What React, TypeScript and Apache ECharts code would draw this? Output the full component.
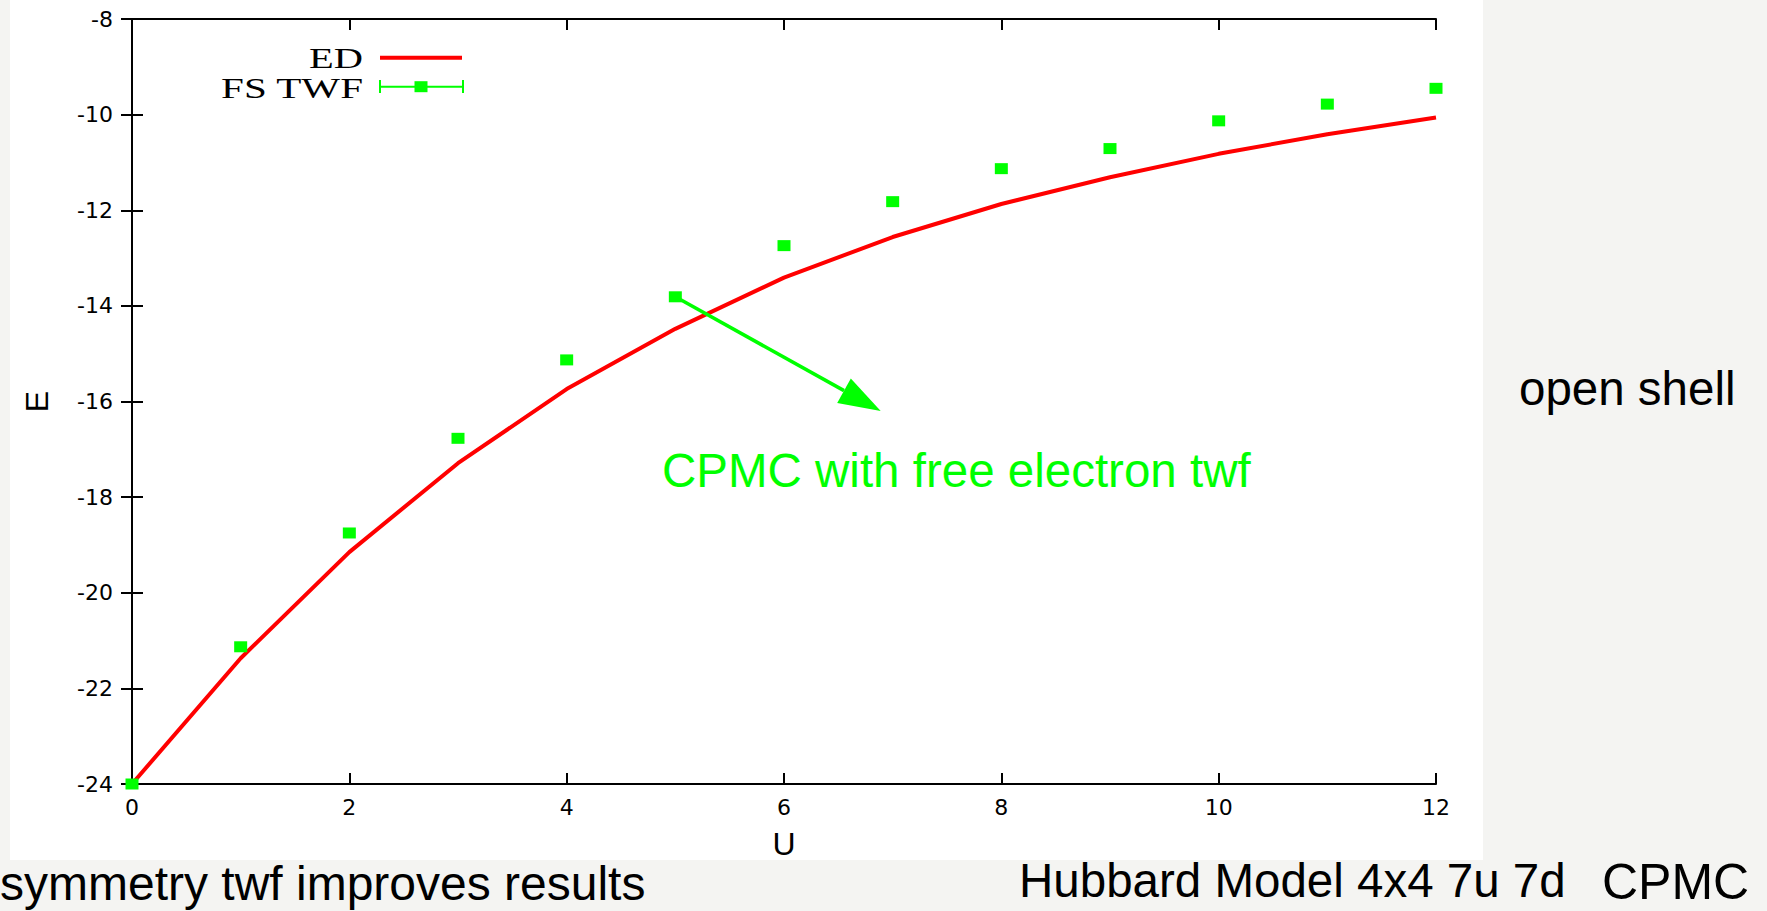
import React, { useEffect, useRef } from "react";
import * as echarts from "echarts";

const U_VALUES = [0, 1, 2, 3, 4, 5, 6, 7, 8, 9, 10, 11, 12];
const ED = [-24, -21.37, -19.15, -17.29, -15.74, -14.48, -13.41, -12.56, -11.87, -11.31, -10.82, -10.41, -10.06];
const FS_TWF = [-24, -21.13, -18.75, -16.77, -15.13, -13.81, -12.74, -11.82, -11.13, -10.71, -10.13, -9.78, -9.45];
const X_TICKS = { min: 0, max: 12, interval: 2 };
const Y_TICKS = { min: -24, max: -8, interval: 2 };
const ARROW_FROM = [5, -13.81];
const ARROW_TO = [6.89, -16.2];

const GREEN = "#00ff00";
const RED = "#ff0000";
const SANS = '"Liberation Sans", Arial, sans-serif';
const WIDE_SANS = '"DejaVu Sans", sans-serif';
const SERIF = '"Liberation Serif", "Times New Roman", serif';

export default function App() {
  const ref = useRef<HTMLDivElement>(null);
  useEffect(() => {
    if (!ref.current) return;
    const chart = echarts.init(ref.current, null, { renderer: "svg" });
    const axisLine = { show: true, lineStyle: { color: "#000", width: 2 } };
    const tick = { show: true, inside: true, length: 11, lineStyle: { color: "#000", width: 2 } };
    const label = { color: "#000", fontSize: 22, fontFamily: WIDE_SANS };
    chart.setOption({
      animation: false,
      backgroundColor: "transparent",
      grid: { left: 132, top: 19, width: 1304, height: 765, containLabel: false },
      legend: { show: false },
      xAxis: [
        {
          type: "value", ...X_TICKS, position: "bottom",
          axisLine, axisTick: tick, splitLine: { show: false },
          axisLabel: { ...label, margin: 12 },
          name: "U", nameLocation: "middle", nameGap: 44,
          nameTextStyle: { color: "#000", fontSize: 32, fontFamily: SANS },
        },
        {
          type: "value", ...X_TICKS, position: "top",
          axisLine, axisTick: tick, splitLine: { show: false }, axisLabel: { show: false },
        },
      ],
      yAxis: [
        {
          type: "value", ...Y_TICKS, position: "left",
          axisLine, axisTick: tick, splitLine: { show: false },
          axisLabel: { ...label, margin: 19 },
          name: "E", nameLocation: "middle", nameGap: 79,
          nameTextStyle: { color: "#000", fontSize: 32, fontFamily: SANS },
        },
        {
          type: "value", ...Y_TICKS, position: "right",
          axisLine, axisTick: tick, splitLine: { show: false }, axisLabel: { show: false },
        },
      ],
      series: [
        {
          name: "ED", type: "line", xAxisIndex: 0, yAxisIndex: 0,
          data: U_VALUES.map((u, i) => [u, ED[i]]),
          showSymbol: false, symbol: "none",
          lineStyle: { color: RED, width: 4 }, itemStyle: { color: RED },
          z: 3,
        },
        {
          name: "FS TWF", type: "scatter", xAxisIndex: 0, yAxisIndex: 0,
          data: U_VALUES.map((u, i) => [u, FS_TWF[i]]),
          symbol: "rect", symbolSize: [13, 11],
          itemStyle: { color: GREEN, opacity: 1 },
          z: 4,
        },
      ],
    });

    const p1 = chart.convertToPixel({ gridIndex: 0 }, ARROW_FROM) as number[];
    const p2 = chart.convertToPixel({ gridIndex: 0 }, ARROW_TO) as number[];
    const dx = p2[0] - p1[0];
    const dy = p2[1] - p1[1];
    const len = Math.sqrt(dx * dx + dy * dy);
    const ux = dx / len, uy = dy / len;
    const headLen = 42, headHalf = 14;
    const bx = p2[0] - ux * headLen, by = p2[1] - uy * headLen;
    const head = [
      [p2[0], p2[1]],
      [bx - uy * headHalf, by + ux * headHalf],
      [bx + uy * headHalf, by - ux * headHalf],
    ];

    const txt = (text: string, x: number, y: number, size: number, color: string, family: string, align = "left", scaleX = 1) => ({
      type: "text", x, y, scaleX, z: 100,
      style: { text, fill: color, font: `${size}px ${family}`, textAlign: align, textVerticalAlign: "middle" },
    });

    chart.setOption({
      graphic: [
        // legend
        txt("ED", 363, 58, 30, "#000", SERIF, "right", 1.35),
        { type: "line", z: 100, shape: { x1: 380, y1: 57.7, x2: 462, y2: 57.7 }, style: { stroke: RED, lineWidth: 4 } },
        txt("FS TWF", 363, 88, 30, "#000", SERIF, "right", 1.37),
        { type: "line", z: 100, shape: { x1: 380, y1: 86.7, x2: 463, y2: 86.7 }, style: { stroke: GREEN, lineWidth: 2 } },
        { type: "line", z: 100, shape: { x1: 380, y1: 80, x2: 380, y2: 93 }, style: { stroke: GREEN, lineWidth: 2 } },
        { type: "line", z: 100, shape: { x1: 463, y1: 80, x2: 463, y2: 93 }, style: { stroke: GREEN, lineWidth: 2 } },
        { type: "rect", z: 100, shape: { x: 414.5, y: 81.2, width: 13, height: 11 }, style: { fill: GREEN } },
        // arrow
        { type: "line", z: 90, shape: { x1: p1[0], y1: p1[1], x2: bx, y2: by }, style: { stroke: GREEN, lineWidth: 3.5 } },
        { type: "polygon", z: 90, shape: { points: head }, style: { fill: GREEN } },
        // annotation texts
        txt("CPMC with free electron twf", 662, 470, 47.5, GREEN, SANS),
        txt("open shell", 1519, 388, 47.5, "#000", SANS),
        txt("symmetry twf improves results", 0, 883, 48, "#000", SANS),
        txt("Hubbard Model 4x4 7u 7d", 1019, 880, 47.5, "#000", SANS),
        txt("CPMC", 1602, 882, 50, "#000", SANS),
      ],
    });

    return () => chart.dispose();
  }, []);

  return (
    <div style={{ position: "absolute", left: 0, top: 0, width: 1767, height: 911, background: "#f4f4f2", overflow: "hidden" }}>
      <div style={{ position: "absolute", left: 10, top: 0, width: 1473, height: 860, background: "#ffffff" }} />
      <div ref={ref} style={{ position: "absolute", left: 0, top: 0, width: 1767, height: 911 }} />
    </div>
  );
}
